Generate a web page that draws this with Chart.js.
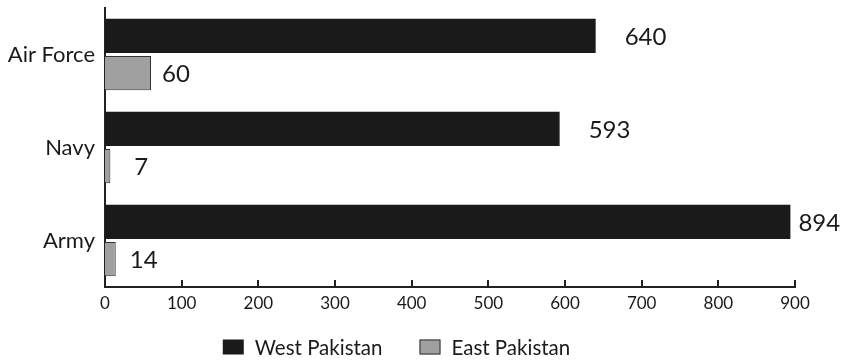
<!DOCTYPE html>
<html>
<head>
<meta charset="utf-8">
<script src="https://cdn.jsdelivr.net/npm/chart.js@4.4.1/dist/chart.umd.min.js"></script>
<style>
  html, body { margin: 0; padding: 0; background: #fff; }
  #wrap { width: 847px; height: 361px; }
</style>
</head>
<body>
<div id="wrap"><canvas id="c" width="847" height="361"></canvas></div>
<script>
// Military officers by branch
const branches = ['Air Force', 'Navy', 'Army'];
const westPakistan = [640, 593, 894];
const eastPakistan = [60, 7, 14];
const xTicks = [0, 100, 200, 300, 400, 500, 600, 700, 800, 900];

const FONT = 'Lato, "Open Sans", sans-serif';
const INK = '#1a1a1a';

// Value labels next to each bar end
const valueLabels = {
  id: 'valueLabels',
  afterDatasetsDraw(chart, args, opts) {
    const ctx = chart.ctx;
    ctx.save();
    ctx.font = '24px ' + FONT;
    ctx.fillStyle = INK;
    ctx.textBaseline = 'middle';
    ctx.textAlign = 'left';
    chart.data.datasets.forEach((ds, di) => {
      const meta = chart.getDatasetMeta(di);
      meta.data.forEach((bar, i) => {
        const dx = opts.gaps[di][i];
        ctx.fillText(String(ds.data[i]), bar.x + dx, bar.y + 1);
      });
    });
    ctx.restore();
  }
};

// Inward tick marks on the value axis
const innerTicks = {
  id: 'innerTicks',
  afterDraw(chart) {
    const x = chart.scales.x;
    const ctx = chart.ctx;
    const y0 = chart.chartArea.bottom;
    ctx.save();
    ctx.strokeStyle = '#222';
    ctx.lineWidth = 2;
    xTicks.slice(1).forEach(v => {
      const px = Math.round(x.getPixelForValue(v));
      ctx.beginPath();
      ctx.moveTo(px, y0);
      ctx.lineTo(px, y0 - 7);
      ctx.stroke();
    });
    ctx.restore();
  }
};

// Legend row beneath the axis
const bottomLegend = {
  id: 'bottomLegend',
  afterDraw(chart) {
    const ctx = chart.ctx;
    const items = chart.data.datasets;
    ctx.save();
    ctx.font = '20.5px ' + FONT;
    ctx.textBaseline = 'middle';
    const boxW = 21, boxH = 15, textGap = 11, itemGap = 37;
    const widths = items.map(d => boxW + textGap + ctx.measureText(d.label).width);
    const total = widths.reduce((a, b) => a + b, 0) + itemGap * (items.length - 1);
    let x = (chart.width - total) / 2 - 27;
    const yc = 347;
    items.forEach((d, i) => {
      ctx.fillStyle = d.backgroundColor;
      ctx.fillRect(x, yc - boxH / 2, boxW, boxH);
      if (d.borderWidth) {
        ctx.strokeStyle = d.borderColor;
        ctx.lineWidth = 1;
        ctx.strokeRect(x + 0.5, yc - boxH / 2 + 0.5, boxW - 1, boxH - 1);
      }
      ctx.fillStyle = INK;
      ctx.fillText(d.label, x + boxW + textGap, yc + 1);
      x += widths[i] + itemGap;
    });
    ctx.restore();
  }
};

new Chart(document.getElementById('c'), {
  type: 'bar',
  data: {
    labels: branches,
    datasets: [
      {
        label: 'West Pakistan',
        data: westPakistan,
        backgroundColor: INK,
        borderWidth: 0
      },
      {
        label: 'East Pakistan',
        data: eastPakistan,
        backgroundColor: '#a0a0a0',
        borderColor: '#333',
        borderWidth: 1
      }
    ]
  },
  options: {
    indexAxis: 'y',
    responsive: false,
    animation: false,
    devicePixelRatio: 1,
    datasets: {
      bar: { categoryPercentage: 0.8, barPercentage: 0.92 }
    },
    layout: { padding: { top: 8, right: 52, bottom: 40, left: 0 } },
    scales: {
      x: {
        min: 0,
        max: 900,
        afterBuildTicks(scale) {
          scale.ticks = xTicks.map(v => ({ value: v }));
        },
        afterFit(scale) {
          scale.height = 34;
          scale.paddingLeft = 0;
          scale.paddingRight = 0;
        },
        grid: { display: false, drawTicks: false },
        border: { display: true, color: '#222', width: 2 },
        ticks: {
          color: INK,
          font: { family: FONT, size: 17 },
          padding: 6,
          maxRotation: 0
        }
      },
      y: {
        afterFit(scale) {
          scale.width = 105;
          scale.paddingTop = 0;
          scale.paddingBottom = 0;
        },
        grid: { display: false, drawTicks: false },
        border: { display: true, color: '#222', width: 2 },
        ticks: {
          color: INK,
          font: { family: FONT, size: 22 },
          padding: 10
        }
      }
    },
    plugins: {
      legend: { display: false },
      tooltip: { enabled: false },
      valueLabels: { gaps: [[29, 29, 8], [11, 24, 14]] }
    }
  },
  plugins: [valueLabels, innerTicks, bottomLegend]
});
</script>
</body>
</html>
